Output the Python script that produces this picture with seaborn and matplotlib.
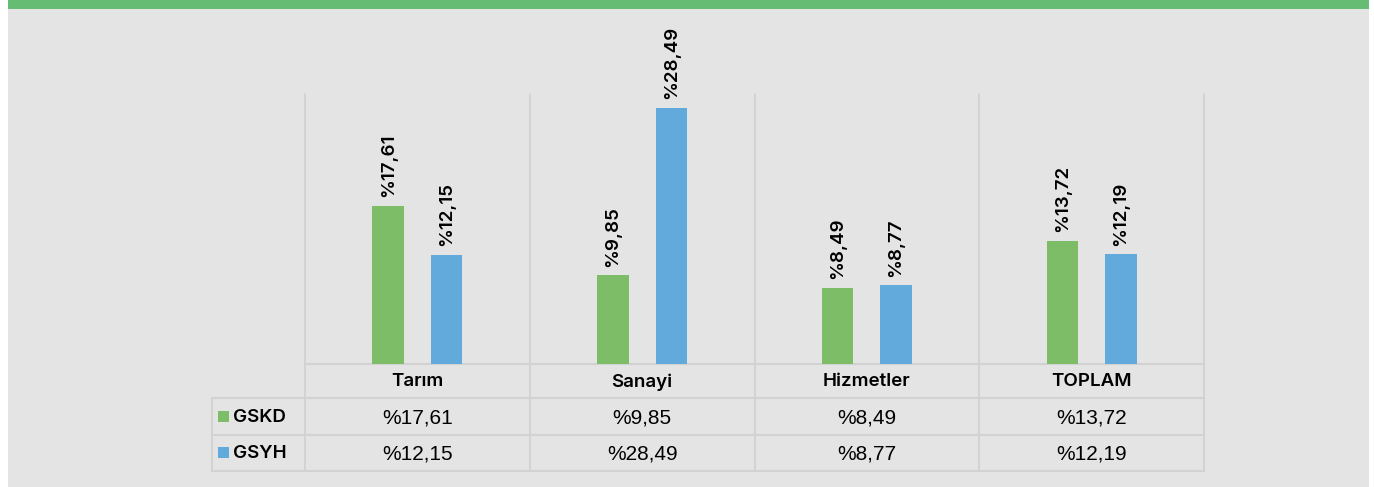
import matplotlib
matplotlib.use("Agg")
import matplotlib.pyplot as plt
import matplotlib.patches as mpatches
import seaborn as sns
import pandas as pd

# Data
categories = ["Tarım", "Sanayi", "Hizmetler", "TOPLAM"]
series_names = ["GSKD", "GSYH"]
gskd = [17.61, 9.85, 8.49, 13.72]
gsyh = [12.15, 28.49, 8.77, 12.19]
gskd_labels = ["%17,61", "%9,85", "%8,49", "%13,72"]
gsyh_labels = ["%12,15", "%28,49", "%8,77", "%12,19"]

GREEN = "#7dbd67"
BLUE = "#62a9dc"
BAND = "#66bc72"
BG = "#e4e4e4"
GRID = "#d2d2d2"

W, H = 1374, 487
sns.set_theme(style="white")
plt.rcParams["font.family"] = ["Inter", "DejaVu Sans"]

fig = plt.figure(figsize=(W / 100, H / 100), dpi=100)
fig.patch.set_facecolor("white")

# Background panel and top band in pixel coordinates
bg = fig.add_axes([0, 0, 1, 1])
bg.set_xlim(0, W)
bg.set_ylim(H, 0)
bg.axis("off")
bg.add_patch(mpatches.Rectangle((8, 9), 1361, H - 9, facecolor=BG, edgecolor="none"))
bg.add_patch(mpatches.Rectangle((8, 0), 1361, 9, facecolor=BAND, edgecolor="none"))

# Chart area
x0, x1 = 305, 1204
y_top, y_base = 94, 364
ax = fig.add_axes([x0 / W, 1 - y_base / H, (x1 - x0) / W, (y_base - y_top) / H])
ax.patch.set_alpha(0)

df = pd.DataFrame({
    "kategori": categories * 2,
    "seri": [series_names[0]] * 4 + [series_names[1]] * 4,
    "deger": gskd + gsyh,
})
sns.barplot(data=df, x="kategori", y="deger", hue="seri", order=categories,
            hue_order=series_names, palette=[GREEN, BLUE], width=0.52, gap=0.46,
            ax=ax, legend=False, saturation=1, linewidth=0)
ax.set_ylim(0, 30)
ax.set_xlim(-0.5, 3.5)
ax.set_xticks([])
ax.set_yticks([])
ax.set_xlabel("")
ax.set_ylabel("")
for s in ax.spines.values():
    s.set_visible(False)

for container, labels in zip(ax.containers, [gskd_labels, gsyh_labels]):
    ax.bar_label(container, labels=labels, rotation=90, padding=6,
                 fontsize=13.5, color="black", fontweight="semibold")

# Table under the chart
col_w = (x1 - x0) / len(categories)
row_y = [364, 398, 435, 471]
table_left = 212

# vertical separators
for i in range(len(categories) + 1):
    xv = x0 + i * col_w
    bg.plot([xv, xv], [y_top, row_y[-1]], color=GRID, lw=1.3, zorder=3)
bg.plot([table_left, table_left], [row_y[1], row_y[-1]], color=GRID, lw=1.3, zorder=3)

# horizontal separators
bg.plot([x0, x1], [row_y[0], row_y[0]], color=GRID, lw=1.6, zorder=3)
for yv in row_y[1:]:
    bg.plot([table_left, x1], [yv, yv], color=GRID, lw=1.6, zorder=3)

# header row
for i, cat in enumerate(categories):
    bg.text(x0 + (i + 0.5) * col_w, (row_y[0] + row_y[1]) / 2 + 1, cat,
            ha="center", va="center", fontsize=13.5, fontweight="semibold", color="black")

# value rows
for r, (name, color, labels) in enumerate(zip(series_names, [GREEN, BLUE],
                                              [gskd_labels, gsyh_labels])):
    yc = (row_y[r + 1] + row_y[r + 2]) / 2
    bg.add_patch(mpatches.Rectangle((218, yc - 6), 11, 11, facecolor=color,
                                    edgecolor="none", zorder=4))
    bg.text(233, yc + 1, name, ha="left", va="center", fontsize=13.5,
            fontweight="semibold", color="black")
    for i, lab in enumerate(labels):
        bg.text(x0 + (i + 0.5) * col_w, yc + 1, lab, ha="center", va="center",
                fontsize=15, family=["Liberation Sans", "DejaVu Sans"], color="black")

fig.savefig("out.png", dpi=100, facecolor=fig.get_facecolor())
